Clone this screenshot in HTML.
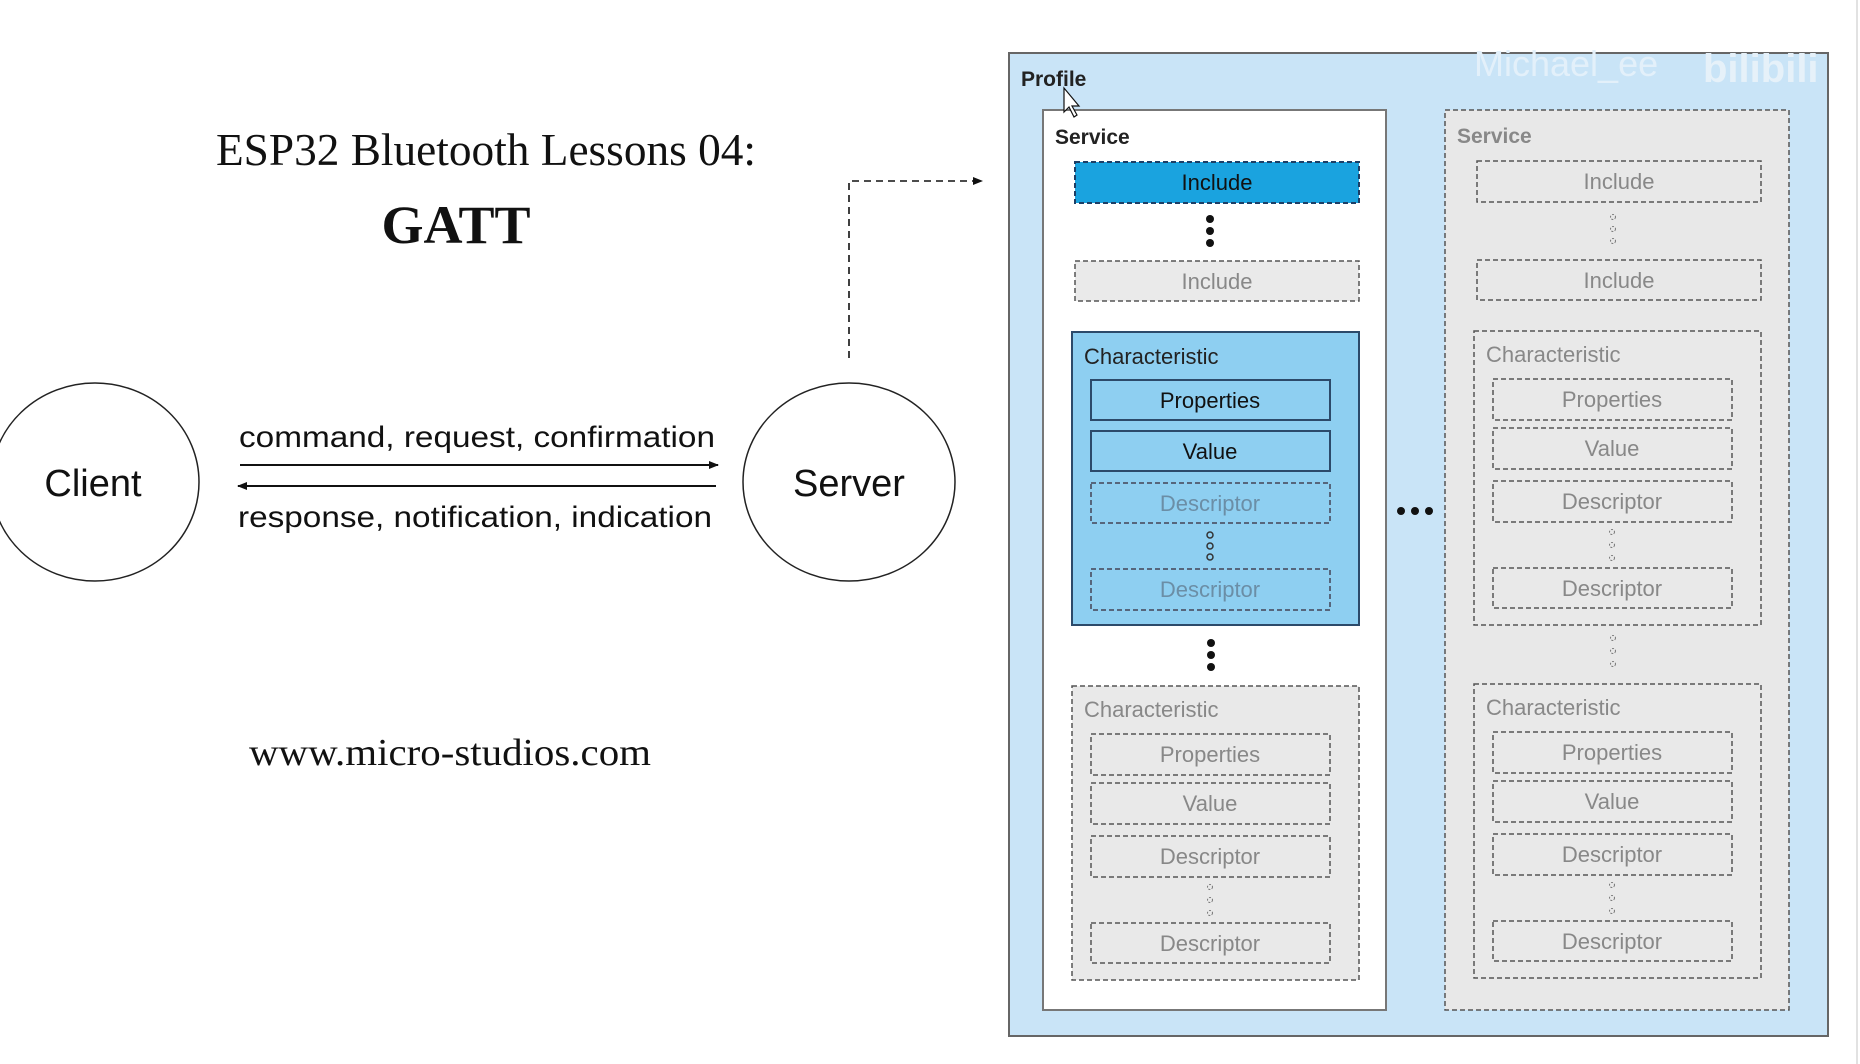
<!DOCTYPE html>
<html><head><meta charset="utf-8"><style>
html,body{margin:0;padding:0;background:#fff;}
svg{display:block}
.s{font-family:"Liberation Sans",Arial,sans-serif}
.r{font-family:"Liberation Serif",serif}
</style></head><body>
<svg width="1860" height="1064" viewBox="0 0 1860 1064" xmlns="http://www.w3.org/2000/svg">
<defs>
<marker id="ah" markerWidth="10" markerHeight="10" refX="9" refY="5" orient="auto" markerUnits="userSpaceOnUse">
<path d="M0,1 L10,5 L0,9 z" fill="#111"/></marker>
</defs>
<rect x="0" y="0" width="1860" height="1064" fill="#fff"/>
<line x1="1857" y1="0" x2="1857" y2="1064" stroke="#e2e2e2" stroke-width="2"/>

<!-- left side -->
<text x="486" y="165" class="r" font-size="45" text-anchor="middle" fill="#111" textLength="540" lengthAdjust="spacingAndGlyphs">ESP32 Bluetooth Lessons 04:</text>
<text x="456" y="243" class="r" font-size="54" font-weight="bold" text-anchor="middle" fill="#111">GATT</text>
<text x="450" y="765" class="r" font-size="38" text-anchor="middle" fill="#111" textLength="402" lengthAdjust="spacingAndGlyphs">www.micro-studios.com</text>

<ellipse cx="95" cy="482" rx="104" ry="99" fill="none" stroke="#222" stroke-width="1.5"/>
<ellipse cx="849" cy="482" rx="106" ry="99" fill="none" stroke="#222" stroke-width="1.5"/>
<text x="93" y="496" class="s" font-size="38" text-anchor="middle" fill="#111">Client</text>
<text x="849" y="496" class="s" font-size="38" text-anchor="middle" fill="#111">Server</text>
<text x="477" y="447" class="s" font-size="30" text-anchor="middle" fill="#111" textLength="476" lengthAdjust="spacingAndGlyphs">command, request, confirmation</text>
<text x="475" y="527" class="s" font-size="30" text-anchor="middle" fill="#111" textLength="474" lengthAdjust="spacingAndGlyphs">response, notification, indication</text>
<line x1="240" y1="465" x2="718" y2="465" stroke="#111" stroke-width="2" marker-end="url(#ah)"/>
<line x1="716" y1="486" x2="238" y2="486" stroke="#111" stroke-width="2" marker-end="url(#ah)"/>
<path d="M849,358 L849,181 L982,181" fill="none" stroke="#111" stroke-width="1.6" stroke-dasharray="7,5" marker-end="url(#ah)"/>

<!-- profile -->
<rect x="1009" y="53" width="819" height="983" fill="#c9e4f7" stroke="#666" stroke-width="2"/>
<text x="1021" y="86" class="s" font-size="21" font-weight="bold" fill="#222">Profile</text>
<text x="1474" y="76" class="s" font-size="36" fill="#e3f0fa">Michael_ee</text>
<text x="1703" y="82" class="s" font-size="40" font-weight="bold" fill="#e6f1f9">bilibili</text>

<!-- service 1 -->
<rect x="1043" y="110" width="343" height="900" fill="#fff" stroke="#777" stroke-width="2"/>
<text x="1055" y="144" class="s" font-size="21" font-weight="bold" fill="#222">Service</text>
<rect x="1075" y="162" width="284" height="41" fill="#1aa3df" stroke="#1d3f66" stroke-width="2" stroke-dasharray="5,3"/>
<text x="1217" y="190" class="s" font-size="22" text-anchor="middle" fill="#111">Include</text>
<circle cx="1210" cy="219" r="4" fill="#111"/><circle cx="1210" cy="231" r="4" fill="#111"/><circle cx="1210" cy="243" r="4" fill="#111"/>
<rect x="1075" y="261" width="284" height="40" fill="#eaeaea" stroke="#555" stroke-width="1.5" stroke-dasharray="5,3"/>
<text x="1217" y="289" class="s" font-size="22" text-anchor="middle" fill="#888">Include</text>

<rect x="1072" y="332" width="287" height="293" fill="#8ecff1" stroke="#2c4a6a" stroke-width="2"/>
<text x="1084" y="364" class="s" font-size="22" fill="#222">Characteristic</text>
<rect x="1091" y="380" width="239" height="40" fill="#8ecff1" stroke="#2c4a6a" stroke-width="2"/>
<text x="1210" y="408" class="s" font-size="22" text-anchor="middle" fill="#111">Properties</text>
<rect x="1091" y="431" width="239" height="40" fill="#8ecff1" stroke="#2c4a6a" stroke-width="2"/>
<text x="1210" y="459" class="s" font-size="22" text-anchor="middle" fill="#111">Value</text>
<rect x="1091" y="483" width="239" height="40" fill="none" stroke="#445" stroke-width="1.5" stroke-dasharray="5,3"/>
<text x="1210" y="511" class="s" font-size="22" text-anchor="middle" fill="#6b8ea6">Descriptor</text>
<circle cx="1210" cy="535" r="3" fill="none" stroke="#333" stroke-width="1.5"/><circle cx="1210" cy="546" r="3" fill="none" stroke="#333" stroke-width="1.5"/><circle cx="1210" cy="557" r="3" fill="none" stroke="#333" stroke-width="1.5"/>
<rect x="1091" y="569" width="239" height="41" fill="none" stroke="#445" stroke-width="1.5" stroke-dasharray="5,3"/>
<text x="1210" y="597" class="s" font-size="22" text-anchor="middle" fill="#6b8ea6">Descriptor</text>
<circle cx="1211" cy="643" r="4" fill="#111"/><circle cx="1211" cy="655" r="4" fill="#111"/><circle cx="1211" cy="667" r="4" fill="#111"/>

<g id="gchar">
<rect x="1072" y="686" width="287" height="294" fill="#e9e9e9" stroke="#555" stroke-width="1.5" stroke-dasharray="5,3"/>
<text x="1084" y="717" class="s" font-size="22" fill="#888">Characteristic</text>
<rect x="1091" y="734" width="239" height="41" fill="none" stroke="#555" stroke-width="1.5" stroke-dasharray="5,3"/>
<text x="1210" y="762" class="s" font-size="22" text-anchor="middle" fill="#888">Properties</text>
<rect x="1091" y="783" width="239" height="41" fill="none" stroke="#555" stroke-width="1.5" stroke-dasharray="5,3"/>
<text x="1210" y="811" class="s" font-size="22" text-anchor="middle" fill="#888">Value</text>
<rect x="1091" y="836" width="239" height="41" fill="none" stroke="#555" stroke-width="1.5" stroke-dasharray="5,3"/>
<text x="1210" y="864" class="s" font-size="22" text-anchor="middle" fill="#888">Descriptor</text>
<circle cx="1210" cy="887" r="2.5" fill="none" stroke="#777" stroke-dasharray="2,1.5"/><circle cx="1210" cy="900" r="2.5" fill="none" stroke="#777" stroke-dasharray="2,1.5"/><circle cx="1210" cy="913" r="2.5" fill="none" stroke="#777" stroke-dasharray="2,1.5"/>
<rect x="1091" y="923" width="239" height="40" fill="none" stroke="#555" stroke-width="1.5" stroke-dasharray="5,3"/>
<text x="1210" y="951" class="s" font-size="22" text-anchor="middle" fill="#888">Descriptor</text>
</g>

<circle cx="1401" cy="511" r="4" fill="#111"/><circle cx="1415" cy="511" r="4" fill="#111"/><circle cx="1429" cy="511" r="4" fill="#111"/>

<!-- service 2 -->
<rect x="1445" y="110" width="344" height="900" fill="#e8e8e8" stroke="#555" stroke-width="1.5" stroke-dasharray="5,3"/>
<text x="1457" y="143" class="s" font-size="21" font-weight="bold" fill="#888">Service</text>
<rect x="1477" y="161" width="284" height="41" fill="none" stroke="#555" stroke-width="1.5" stroke-dasharray="5,3"/>
<text x="1619" y="189" class="s" font-size="22" text-anchor="middle" fill="#888">Include</text>
<circle cx="1613" cy="217" r="2.5" fill="none" stroke="#777" stroke-dasharray="2,1.5"/><circle cx="1613" cy="229" r="2.5" fill="none" stroke="#777" stroke-dasharray="2,1.5"/><circle cx="1613" cy="241" r="2.5" fill="none" stroke="#777" stroke-dasharray="2,1.5"/>
<rect x="1477" y="260" width="284" height="40" fill="none" stroke="#555" stroke-width="1.5" stroke-dasharray="5,3"/>
<text x="1619" y="288" class="s" font-size="22" text-anchor="middle" fill="#888">Include</text>
<g transform="translate(402,-355)"><use href="#gchar"/></g>
<circle cx="1613" cy="638" r="2.5" fill="none" stroke="#777" stroke-dasharray="2,1.5"/><circle cx="1613" cy="651" r="2.5" fill="none" stroke="#777" stroke-dasharray="2,1.5"/><circle cx="1613" cy="664" r="2.5" fill="none" stroke="#777" stroke-dasharray="2,1.5"/>
<g transform="translate(402,-2)"><use href="#gchar"/></g>

<!-- cursor -->
<path d="M1064,88 L1064,112 L1069,107 L1074,117 L1077,115 L1072,106 L1079,106 z" fill="#fff" stroke="#111" stroke-width="1.2"/>
</svg>
</body></html>
